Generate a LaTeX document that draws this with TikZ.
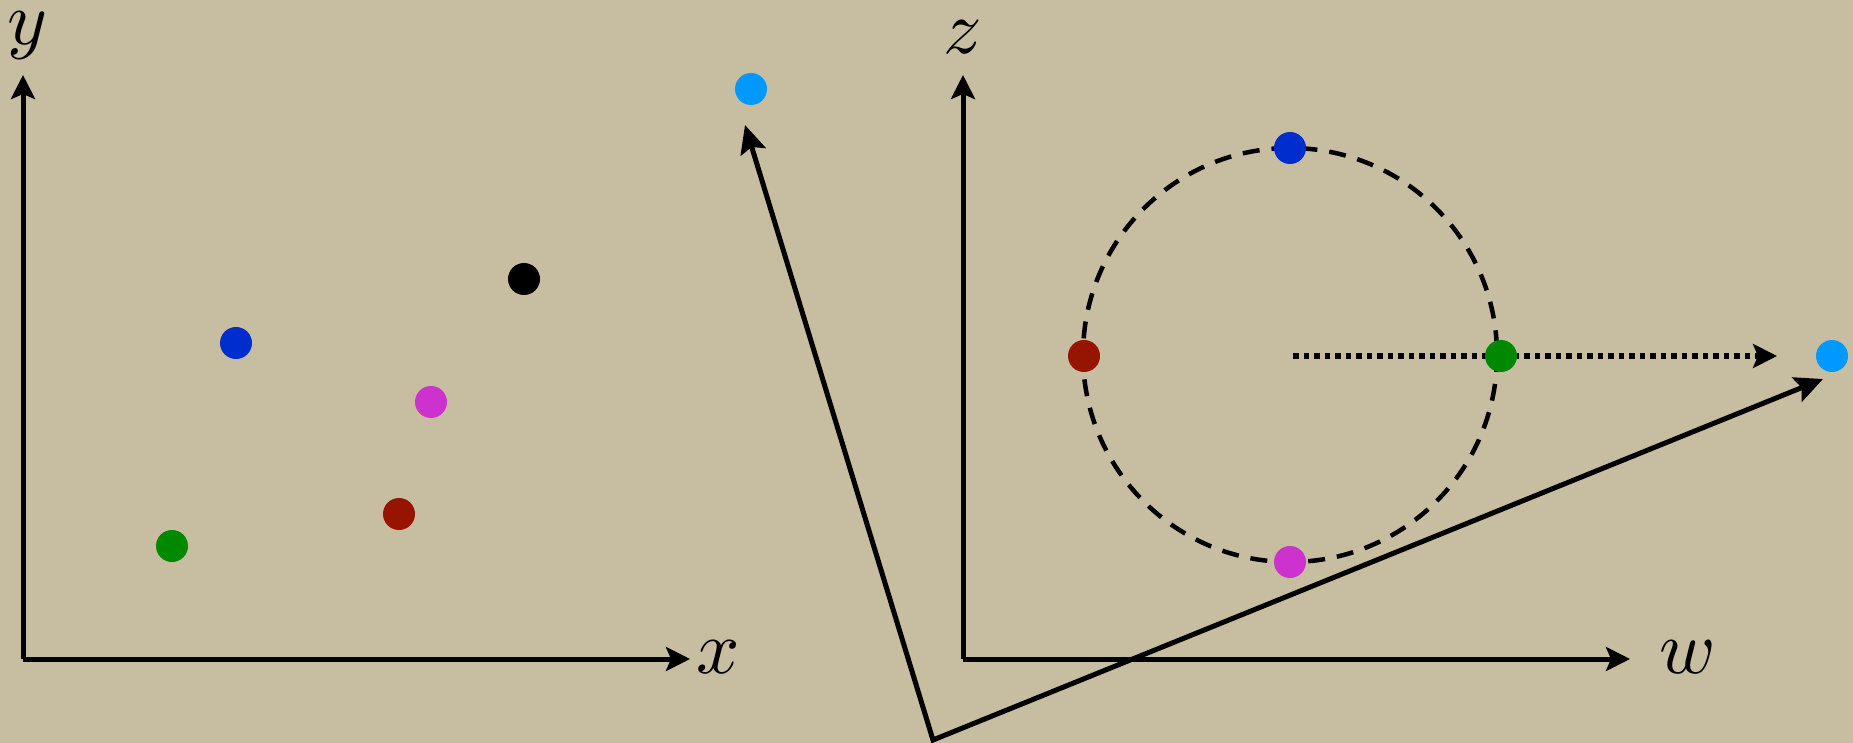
\documentclass[tikz,border=0pt]{standalone}
\usetikzlibrary{arrows.meta}
\definecolor{bgtan}{RGB}{199,189,161}
\definecolor{dlightblue}{RGB}{0,153,255}
\definecolor{dblue}{RGB}{0,45,205}
\definecolor{dmagenta}{RGB}{206,50,206}
\definecolor{dred}{RGB}{150,20,0}
\definecolor{dgreen}{RGB}{0,136,0}
\begin{document}
\begin{tikzpicture}[x=1pt,y=-1pt,
  dot/.style={circle,inner sep=0pt,minimum size=32pt},
  axis/.style={line width=5pt,-{Stealth[length=24pt,width=24pt,inset=5pt]}},
  vec/.style={line width=5pt,{Stealth[length=28pt,width=26pt,inset=5pt]}-{Stealth[length=28pt,width=26pt,inset=5pt]}},
  lbl/.style={inner sep=0pt,scale=7.6}]
\fill[bgtan] (0,0) rectangle (1853,743);
\useasboundingbox (0,0) rectangle (1853,743);
% left axes
\coordinate (lo) at (23,659);
\coordinate (ly) at (23,75);
\coordinate (lx) at (690,659);
\draw[axis] (lo) -- (ly);
\draw[axis] (lo) -- (lx);
\node[lbl] (ylab) at (27,36) {$y$};
\node[lbl] (xlab) at (718,657) {$x$};
% right axes
\coordinate (ro) at (963,659);
\coordinate (rz) at (963,75);
\coordinate (rw) at (1630,659);
\draw[axis] (ro) -- (rz);
\draw[axis] (ro) -- (rw);
\node[lbl] (zlab) at (963,37) {$z$};
\node[lbl] (wlab) at (1688,657) {$w$};
% circle
\coordinate (cc) at (1290,355);
\draw[line width=4.5pt,dash pattern=on 17pt off 12pt] (cc) circle[radius=207];
% dotted arrow
\coordinate (dstart) at (1293,356);
\coordinate (dend) at (1777,356);
\draw[line width=5.5pt,dash pattern=on 5.5pt off 5pt,-{Stealth[length=24pt,width=24pt,inset=5pt]}] (dstart) -- (dend);
% left dots
\node[dot,fill=dlightblue] (p1) at (751,89) {};
\node[dot,fill=black] (p2) at (524,279) {};
\node[dot,fill=dblue] (p3) at (236,343) {};
\node[dot,fill=dmagenta] (p4) at (431,402) {};
\node[dot,fill=dred] (p5) at (399,514) {};
\node[dot,fill=dgreen] (p6) at (172,546) {};
% right dots
\node[dot,fill=dblue] (q1) at (1290,148) {};
\node[dot,fill=dred] (q2) at (1084,356) {};
\node[dot,fill=dgreen] (q3) at (1501,356) {};
\node[dot,fill=dmagenta] (q4) at (1290,562) {};
\node[dot,fill=dlightblue] (q5) at (1832,356) {};
% vectors
\coordinate (vo) at (933,740);
\coordinate (va) at (745,125);
\coordinate (vb) at (1823,379);
\draw[vec,line join=miter] (va) -- (vo) -- (vb);
\end{tikzpicture}
\end{document}
